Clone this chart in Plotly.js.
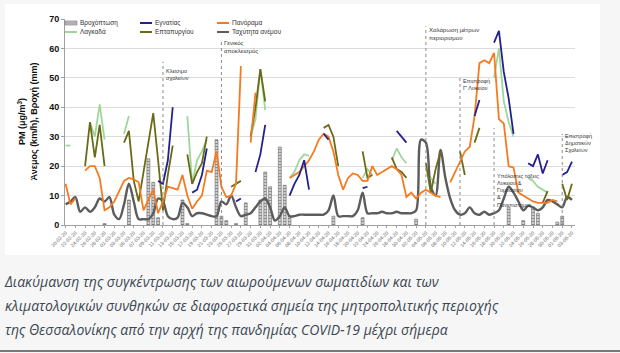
<!DOCTYPE html>
<html><head><meta charset="utf-8">
<script src="https://cdn.plot.ly/plotly-3.0.1.min.js"></script>
<style>
html,body{margin:0;padding:0;background:#f6f6f6;width:620px;height:353px;overflow:hidden;}
#chart{position:absolute;left:5px;top:4px;width:595px;height:251px;background:#fff;}
#cap{position:absolute;left:5px;top:270px;font-family:'Open Sans',sans-serif;font-style:italic;font-size:14px;line-height:24px;color:#3b4652;white-space:nowrap;}
#rule{position:absolute;left:0;top:350px;width:620px;height:2px;background:#777;}
</style></head>
<body>
<div id="chart"></div>
<div id="cap">Διακύμανση της συγκέντρωσης των αιωρούμενων σωματιδίων και των<br>κλιματολογικών συνθηκών σε διαφορετικά σημεία της μητροπολιτικής περιοχής<br>της Θεσσαλονίκης από την αρχή της πανδημίας COVID-19 μέχρι σήμερα</div>
<div id="rule"></div>
<script>
// daily series, first day 2020-02-20
const startDate = '2020-02-20';
const seriesNames = ['Βροχόπτωση','Εγνατίας','Πανόραμα','Λαγκαδά','Επταπυργίου','Ταχύτητα ανέμου'];
const yTitle = ['PM (μg/m<sup>3</sup>)', 'Άνεμος (km/h), Βροχή (mm)'];

const rain = [
null,null,null,null,null,null,null,null,0.5,null,
null,null,null,8.5,null,null,null,22.5,14.5,2.5,
null,null,null,null,8.5,0.5,null,null,null,null,
null,29,3,1.5,null,0.5,null,7.5,null,null,
8.5,18,13,null,26.5,13.5,3,null,null,null,
null,null,null,null,null,3,null,null,null,null,
null,2.5,null,null,null,null,null,null,null,null,
null,null,2,null,null,null,null,null,null,null,
null,null,null,null,null,null,null,null,null,null,
null,6,null,null,1.5,null,6,4,null,null,
null,1,3,null,null,null];

const wind = [
7,8,9.5,4.5,6,4.5,6,9,8,9.5,
3.5,2,7,14,8,2,2,2,4,9,
8,3,2,2.5,7.5,6,3,4,4,3.5,
3,3,8,7,10,6,3,3.5,4,6,
8,9,6,1.5,3,6,3,3,3.5,3.5,
3.5,3.5,3.5,3.5,5,10,3,3,3,3,
5,11,4,4,4,4.5,4,4,4.5,4,
4,4,5,29,28,13,10,25.5,16,9,
5,3.5,4,6,4,3.5,4.5,3.5,4,5,
9,13,11,8,5,6.5,6,5,6,8.5,
8,7,6,9.5,8.5,null];

const egnatia = [
null,null,null,null,null,null,null,null,null,null,
null,null,null,null,null,null,null,null,null,15,
14,22,40,null,null,null,11,12,17,26,
null,null,null,null,null,8,9,null,null,18,
24,34,null,null,null,null,10,14,17,22,
12,null,null,31,29,null,null,null,null,null,
null,12.5,13,null,null,null,null,null,32,30,
28,null,null,null,null,null,null,null,null,null,
null,null,null,null,37,42.5,null,null,62,66,
52,43,31,null,null,21,20,24,17.5,22,
null,null,17,18,21.5,null];

const panorama = [
14,7,9,null,18.5,20,20,16,5,6,
8,11.5,15,16,15.5,14.5,5,8.5,12,4,
8,13,12.5,12,17,10,5.5,8,10,18.5,
18,25,13,9.5,10,14,54,null,28,45,
null,null,null,null,null,null,16,17,18,20,
22,25,29,31,30,25,17,12,16,17.5,
17,15,15,20,17,18,19,20,19,17,
9.5,11,9,11,12,11,10,9.5,null,14.5,
18,22,25,26.5,37,55,56,55,58.5,36,
34.5,20,19.5,11,10,9,8,7.5,7.5,7.5,
8.5,8,null,null,null,null];

const lagkada = [
27,27,null,null,null,35,30,41,29,null,
null,null,31,37,null,null,null,null,null,null,
null,null,null,null,null,37,14,22,25,29,
null,null,null,null,null,null,null,null,30,36,
53,39,null,null,null,null,16,18,22,24,
23.5,null,null,null,null,null,null,null,null,null,
null,16,19,17,null,null,null,22,26,23,
21,null,null,null,null,16,14,null,null,null,
null,null,null,null,null,null,null,null,50,60,
42,35,30,null,null,16,15,13,12,11,
null,null,null,null,null,null];

const eptapyrgiou = [
null,null,null,null,20,35,23,34,20,null,
null,null,28,32,15,8,18,28,38,22,
5,17,27,null,null,24,14,18,21,30,
null,null,null,null,13,14,15,null,30,40,
53,42,null,null,null,null,null,null,null,null,
null,null,null,33,34,30,20,null,null,null,
null,25,16,17,null,null,null,23,19,18,
16,null,null,null,21,11,19,25,null,null,
null,25,17,null,28,33,null,null,null,null,
null,null,null,null,null,null,null,null,7.5,11.5,
null,null,14,8.5,14,null];

const eventDates = ['2020-03-11','2020-03-23','2020-05-04','2020-05-11','2020-05-18','2020-06-01'];
const eventLabels = ['Κλείσιμο<br>σχολείων','Γενικός<br>αποκλεισμός','Χαλάρωση μέτρων<br>περιορισμού','Επιστροφή<br>Γ\' Λυκείου','Υπόλοιπες τάξεις<br>Λυκείου &<br>Γυμνασίου<br>&<br>Πανεπιστήμια','Επιστροφή<br>Δημοτικών<br>Σχολείων'];

// ---- styling / positions ----
const DAY = 86400000;
const lineTops = [55.5, 63, 67.5, 50, 33, 31];
const textTops = [54, 63.5, 68, 50.5, 18.5, 32];
const textSizes = [5.5, 6, 6, 5.5, 5.5, 5.5];
const colors = ['#bdbdbd', '#22218f', '#f47b20', '#9fd79b', '#6b6a16', '#5c5c5c'];

const base = {x0: startDate, dx: DAY, type: 'scatter', mode: 'lines', hoverinfo: 'skip', showlegend: false};
const traces = [
  {x0: startDate, dx: DAY, type: 'bar', y: rain, name: seriesNames[0], width: 0.6*DAY, showlegend: false,
   marker: {color: colors[0], line: {color: '#6a6a6a', width: 0.6},
            pattern: {shape: '-', fgcolor: '#8a8a8a', bgcolor: '#cfcfcf', size: 3, solidity: 0.3}}},
  Object.assign({}, base, {y: wind, name: seriesNames[5], line: {color: colors[5], width: 2.4, shape: 'spline', smoothing: 0.9}}),
  Object.assign({}, base, {y: lagkada, name: seriesNames[3], line: {color: colors[3], width: 1.8}}),
  Object.assign({}, base, {y: eptapyrgiou, name: seriesNames[4], line: {color: colors[4], width: 1.8}}),
  Object.assign({}, base, {y: panorama, name: seriesNames[2], line: {color: colors[2], width: 1.8}}),
  Object.assign({}, base, {y: egnatia, name: seriesNames[1], line: {color: colors[1], width: 1.8}})
];

// plot area in page pixels: left 65, right 575, top 19, bottom 225
const PX = x => (x - 65) / 510, PY = y => (225 - y) / 206;

const shapes = eventDates.map((d, i) => ({type: 'line', xref: 'x', yref: 'y', x0: d, x1: d, y0: 0, y1: lineTops[i],
  line: {color: '#8a8a8a', width: 1, dash: 'dot'}}));
const annotations = eventDates.map((d, i) => ({x: d, y: textTops[i], xref: 'x', yref: 'y', text: eventLabels[i],
  showarrow: false, xanchor: 'left', yanchor: 'top', align: 'left', xshift: 1,
  font: {size: textSizes[i], color: '#333'}}));

// legend drawn in two rows of three entries
const legCols = [65, 140, 217], legRows = [23, 32];
seriesNames.forEach((nm, i) => {
  const cx = legCols[i % 3], cy = legRows[Math.floor(i / 3)];
  if (i === 0) {
    shapes.push({type: 'rect', xref: 'paper', yref: 'paper', x0: PX(cx), x1: PX(cx + 12), y0: PY(cy + 2), y1: PY(cy - 2),
      fillcolor: '#c4c4c4', line: {color: '#777', width: 0.6}});
    shapes.push({type: 'line', xref: 'paper', yref: 'paper', x0: PX(cx), x1: PX(cx + 12), y0: PY(cy), y1: PY(cy),
      line: {color: '#888', width: 0.6}});
  } else {
    shapes.push({type: 'line', xref: 'paper', yref: 'paper', x0: PX(cx), x1: PX(cx + 12), y0: PY(cy), y1: PY(cy),
      line: {color: colors[i], width: 2}});
  }
  annotations.push({xref: 'paper', yref: 'paper', x: PX(cx + 13), y: PY(cy), text: nm, showarrow: false,
    xanchor: 'left', yanchor: 'middle', font: {size: 6.5, color: '#333'}});
});

annotations.push({xref: 'paper', yref: 'paper', x: PX(26.5), y: 0.5, textangle: -90, showarrow: false,
  xanchor: 'center', yanchor: 'middle', align: 'center',
  text: '<b>' + yTitle[0] + '</b><br><b>' + yTitle[1] + '</b>', font: {size: 9, color: '#111'}});

const layout = {
  width: 595, height: 251,
  margin: {l: 60, r: 25, t: 15, b: 30},
  paper_bgcolor: '#ffffff', plot_bgcolor: '#ffffff',
  font: {family: 'Liberation Sans, Arial, sans-serif', color: '#222'},
  showlegend: false,
  bargap: 0,
  xaxis: {type: 'date', range: ['2020-02-19 21:00', '2020-06-03 15:00'], tick0: startDate, dtick: 2*DAY,
    tickformat: '%d-%m-%y', tickangle: -45, tickfont: {size: 5, color: '#666'}, automargin: false,
    showgrid: false, showline: true, linecolor: '#a0a0a0', ticks: 'outside', ticklen: 2, tickcolor: '#a0a0a0',
    zeroline: false},
  yaxis: {range: [0, 70], dtick: 10, showgrid: true, gridcolor: '#dcdcdc', gridwidth: 1, automargin: false,
    tickfont: {size: 9, color: '#111', weight: 'bold'}, showline: true, linecolor: '#a0a0a0',
    ticks: 'outside', ticklen: 3, tickcolor: '#a0a0a0', zeroline: false},
  shapes: shapes,
  annotations: annotations
};

Plotly.newPlot('chart', traces, layout, {staticPlot: true, displayModeBar: false});
</script>
</body></html>
